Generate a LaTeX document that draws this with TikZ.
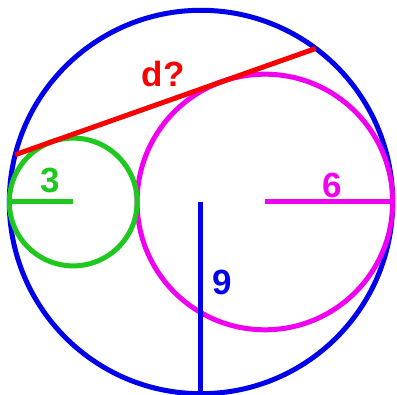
\documentclass[tikz,border=0pt]{standalone}
\usepackage{fontspec}
\setmainfont{Liberation Sans}
\definecolor{cblue}{RGB}{0,0,235}
\definecolor{cred}{RGB}{250,0,0}
\definecolor{cgreen}{RGB}{30,200,30}
\definecolor{cmag}{RGB}{240,0,240}
\begin{document}
\begin{tikzpicture}[x=21.3pt,y=21.3pt,
  ring/.style={line width=5pt},
  seg/.style={line width=5pt},
  lbl/.style={font=\bfseries\fontsize{35}{35}\selectfont, inner sep=0pt}]
\useasboundingbox (-201pt,-193pt) rectangle (196pt,202pt);
\coordinate (O) at (0,0);
\coordinate (G) at (-6,0);
\coordinate (M) at (3,0);
\draw[ring,cblue] (O) circle (9);
\draw[ring,cmag] (M) circle (6);
\draw[ring,cgreen] (G) circle (3);
% tangent chord
\coordinate (T1) at (-8.722,2.220);
\coordinate (T2) at (5.388,7.208);
\draw[seg,cred] (T1) -- (T2);
% radii
\coordinate (Gr) at (-9,0);
\coordinate (Mr) at (9,0);
\coordinate (Ob) at (0,-9);
\draw[seg,cgreen] (Gr) -- (G);
\draw[seg,cmag] (M) -- (Mr);
\draw[seg,cblue] (O) -- (Ob);
\node[lbl,cred] (d) at (-38pt,128pt) {d?};
\node[lbl,cgreen] (l3) at (-151pt,22pt) {3};
\node[lbl,cmag] (l6) at (131pt,17pt) {6};
\node[lbl,cblue] (l9) at (21pt,-80pt) {9};
\end{tikzpicture}
\end{document}
